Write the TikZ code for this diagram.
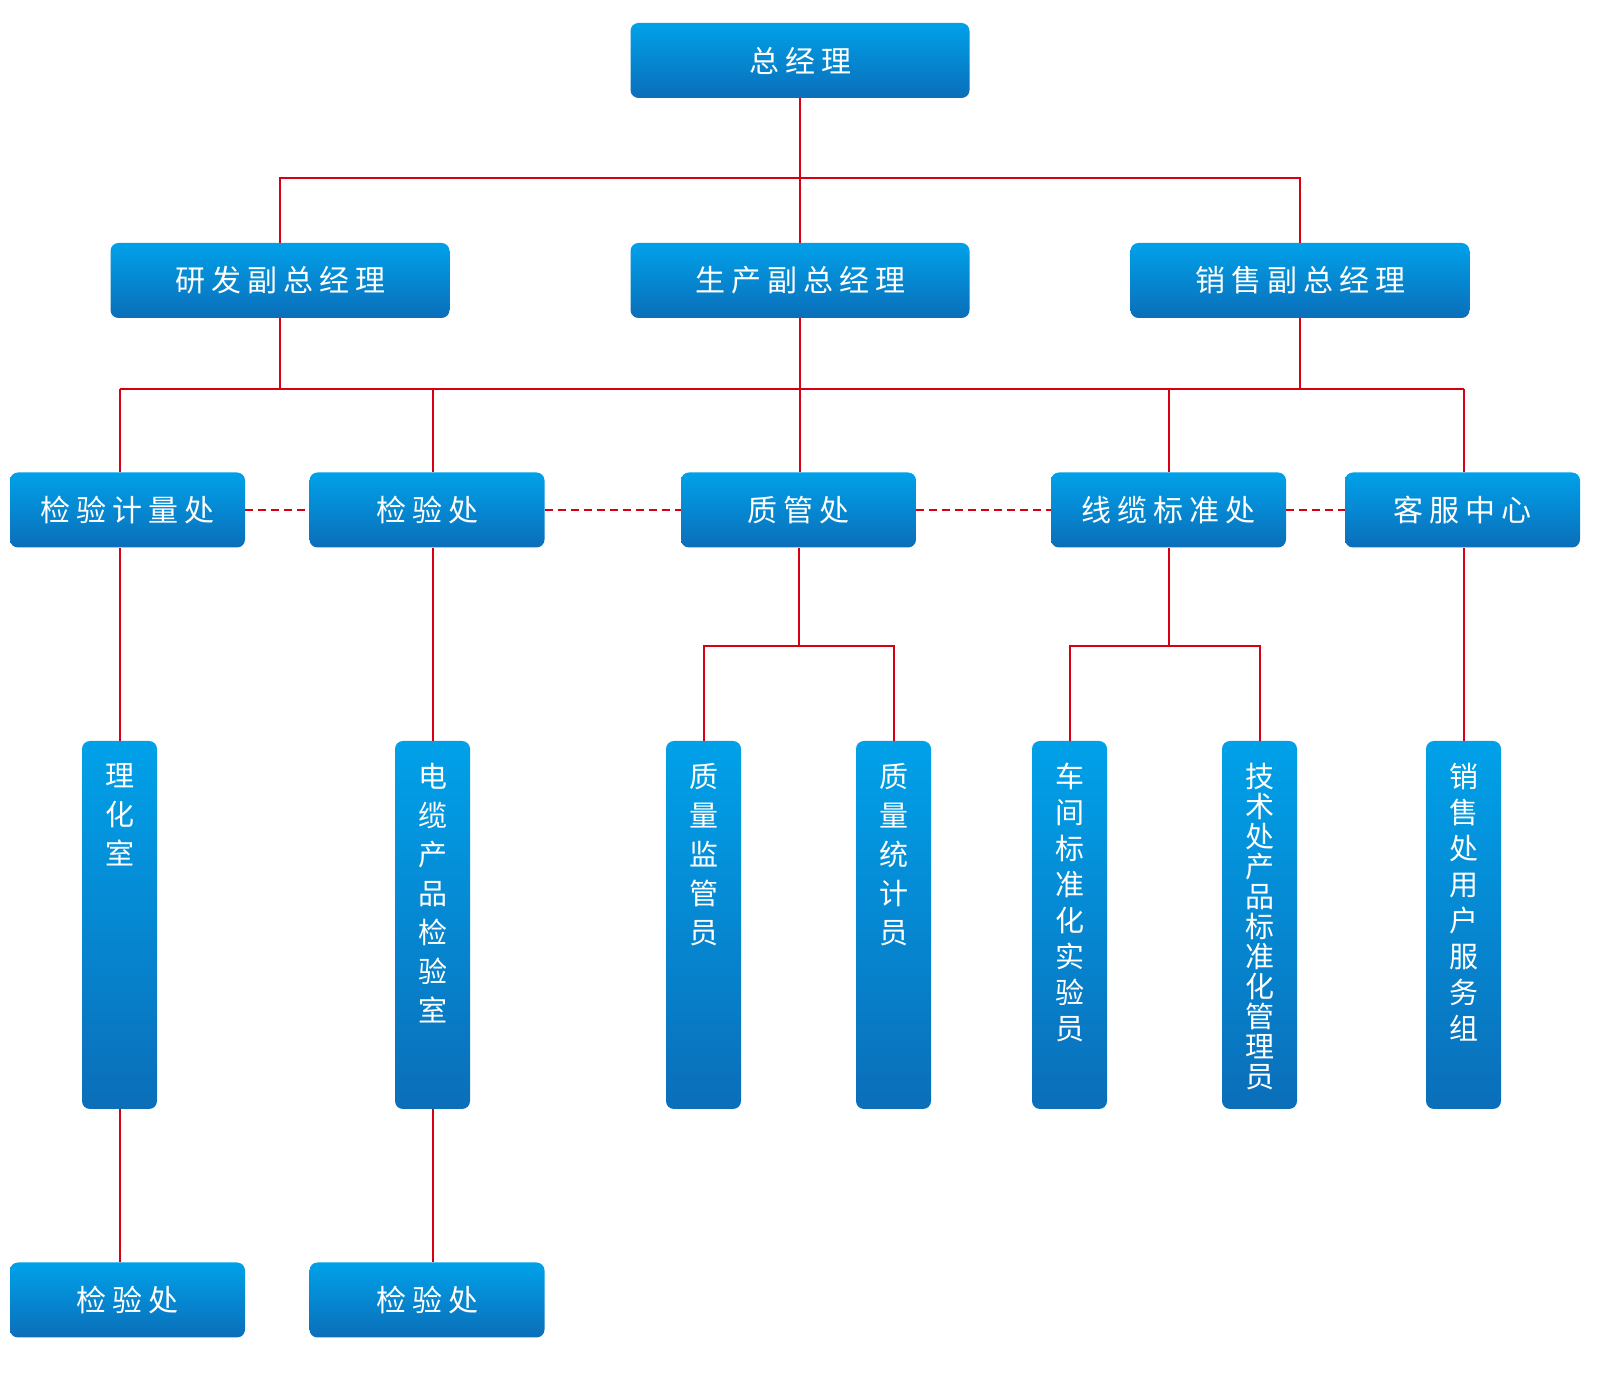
\documentclass[tikz,border=0pt]{standalone}
\usepackage{fontspec}
\newfontfamily\cjk[LetterSpace=20]{Noto Sans CJK SC}
\newfontfamily\cjkv{Noto Sans CJK SC}
\definecolor{boxtop}{RGB}{0,161,233}
\definecolor{boxbot}{RGB}{11,110,185}
\definecolor{linkred}{RGB}{215,0,18}
\tikzset{
  box/.style={rounded corners=8pt, top color=boxtop, bottom color=boxbot, draw=none,
    text=white, inner sep=0pt, minimum height=75pt, font=\cjk\fontsize{30}{30}\selectfont},
  wbox/.style={box, minimum width=339pt},
  sbox/.style={box, minimum width=235pt},
  tall/.style={box, minimum width=75pt, minimum height=368pt},
  vlab/.style={anchor=north, yshift=-22pt, inner sep=0pt, align=center, text=white,
    font=\cjkv\fontsize{29}{#1}\selectfont},
  link/.style={linkred, line width=2pt},
  dlink/.style={link, dash pattern=on 8pt off 5pt}
}
\begin{document}
\begin{tikzpicture}[x=1pt,y=1pt]
\useasboundingbox (0,0) rectangle (1600,1378);

% top level
\node[wbox] (zjl) at (800,1317.5) {总经理};

% deputies
\node[wbox] (yfjl) at (280,1097.5) {研发副总经理};
\node[wbox] (scjl) at (800,1097.5) {生产副总经理};
\node[wbox] (xsjl) at (1300,1097.5) {销售副总经理};

% departments
\node[sbox] (jljl) at (127.5,868) {检验计量处};
\node[sbox] (jyc) at (427,868) {检验处};
\node[sbox] (zgc) at (798.5,868) {质管处};
\node[sbox] (xlbz) at (1168.5,868) {线缆标准处};
\node[sbox] (kfzx) at (1462.5,868) {客服中心};

% staff
\node[tall, label={[vlab=39]north:理\\化\\室}] (lhs) at (119.5,453) {};
\node[tall, label={[vlab=39]north:电\\缆\\产\\品\\检\\验\\室}] (dlcp) at (432.5,453) {};
\node[tall, label={[vlab=39]north:质\\量\\监\\管\\员}] (zljg) at (703.5,453) {};
\node[tall, label={[vlab=39]north:质\\量\\统\\计\\员}] (zltj) at (893.5,453) {};
\node[tall, label={[vlab=36]north:车\\间\\标\\准\\化\\实\\验\\员}] (cjsy) at (1069.5,453) {};
\node[tall, label={[vlab=30]north:技\\术\\处\\产\\品\\标\\准\\化\\管\\理\\员}] (jsgl) at (1259.5,453) {};
\node[tall, label={[vlab=36]north:销\\售\\处\\用\\户\\服\\务\\组}] (xsfw) at (1463.5,453) {};

% bottom
\node[sbox] (jyca) at (127.5,78) {检验处};
\node[sbox] (jycb) at (427,78) {检验处};

\coordinate (t1) at (800,1200);
\coordinate (t2) at (800,989);
\coordinate (t3) at (800,732);

% links
\draw[link] (zjl.south) -- (scjl.north);
\draw[link] (yfjl.north) -- (yfjl.north |- t1) -- (xsjl.north |- t1) -- (xsjl.north);

\draw[link] (yfjl.south) -- (yfjl.south |- t2);
\draw[link] (xsjl.south) -- (xsjl.south |- t2);
\draw[link] (scjl.south) -- (scjl.south |- zgc.north);
\draw[link] (lhs.north |- t2) -- (xsfw.north |- t2);
\draw[link] (lhs.north |- t2) -- (lhs.north |- jljl.north);
\draw[link] (dlcp.north |- t2) -- (dlcp.north |- jyc.north);
\draw[link] (xlbz.north |- t2) -- (xlbz.north);
\draw[link] (xsfw.north |- t2) -- (xsfw.north |- kfzx.north);

\draw[dlink] (jljl.east) -- (jyc.west);
\draw[dlink] (jyc.east) -- (zgc.west);
\draw[dlink] (zgc.east) -- (xlbz.west);
\draw[dlink] (xlbz.east) -- (kfzx.west);

\draw[link] (lhs.north) -- (lhs.north |- jljl.south);
\draw[link] (dlcp.north) -- (dlcp.north |- jyc.south);
\draw[link] (zgc.south) -- (zgc.south |- t3);
\draw[link] (zljg.north) |- (zltj.north |- t3) -- (zltj.north);
\draw[link] (xlbz.south) -- (xlbz.south |- t3);
\draw[link] (cjsy.north) |- (jsgl.north |- t3) -- (jsgl.north);
\draw[link] (xsfw.north) -- (xsfw.north |- kfzx.south);

\draw[link] (lhs.south) -- (lhs.south |- jyca.north);
\draw[link] (dlcp.south) -- (dlcp.south |- jycb.north);
\end{tikzpicture}
\end{document}
